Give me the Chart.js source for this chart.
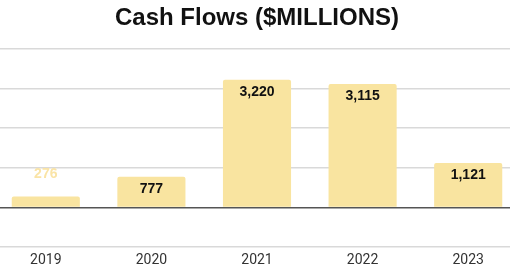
<!DOCTYPE html>
<html>
<head>
<meta charset="utf-8">
<script src="https://cdn.jsdelivr.net/npm/chart.js@4"></script>
<style>
  html, body { margin: 0; padding: 0; background: #fff; overflow: hidden; }
  #wrap { position: absolute; left: -7px; top: 0; width: 528px; height: 271px; }
</style>
</head>
<body>
<div id="wrap"><canvas id="chart"></canvas></div>
<script>
const years = ['2019', '2020', '2021', '2022', '2023'];
const cashFlows = [276, 777, 3220, 3115, 1121];

const barColor = '#f9e4a0';

// draws value labels inside the bar top, or above it when the bar is too short
const valueLabels = {
    id: 'valueLabels',
    afterDatasetsDraw(chart) {
        const ctx = chart.ctx;
        const meta = chart.getDatasetMeta(0);
        ctx.save();
        ctx.font = 'bold 14px "Liberation Sans", Arial, sans-serif';
        ctx.textAlign = 'center';
        ctx.textBaseline = 'middle';
        meta.data.forEach((bar, i) => {
            const text = cashFlows[i].toLocaleString('en-US');
            const h = bar.base - bar.y;
            if (h > 24) {
                ctx.fillStyle = '#111';
                ctx.fillText(text, bar.x, bar.y + 12);
            } else {
                ctx.fillStyle = '#fae4a6';
                ctx.fillText(text, bar.x, bar.y - 22);
            }
        });
        ctx.restore();
    }
};

new Chart(document.getElementById('chart'), {
    type: 'bar',
    data: {
        labels: years,
        datasets: [{
            data: cashFlows,
            backgroundColor: barColor,
            borderRadius: { topLeft: 2, topRight: 2 },
            borderSkipped: 'bottom',
            categoryPercentage: 1,
            barPercentage: 0.645,
        }],
    },
    options: {
        responsive: true,
        maintainAspectRatio: false,
        animation: false,
        layout: { padding: { top: 4, bottom: -3 } },
        plugins: {
            legend: { display: false },
            tooltip: { enabled: false },
            title: {
                display: true,
                text: 'Cash Flows ($MILLIONS)',
                color: '#111',
                font: { family: '"Liberation Sans", Arial, sans-serif', size: 24, weight: 'bold' },
                padding: { top: 0, bottom: 16 },
            },
        },
        scales: {
            x: {
                grid: { display: false, drawTicks: false },
                border: { display: false },
                ticks: {
                    color: '#333',
                    font: { family: 'Roboto, Arial, sans-serif', size: 14 },
                    padding: 5,
                },
            },
            y: {
                min: -1000,
                max: 4000,
                ticks: { display: false, stepSize: 1000 },
                border: { display: false },
                grid: {
                    drawTicks: false,
                    color: c => c.tick.value === 0 ? '#555' : '#d9d9d9',
                    lineWidth: 1.5,
                },
            },
        },
    },
    plugins: [valueLabels],
});
</script>
</body>
</html>
